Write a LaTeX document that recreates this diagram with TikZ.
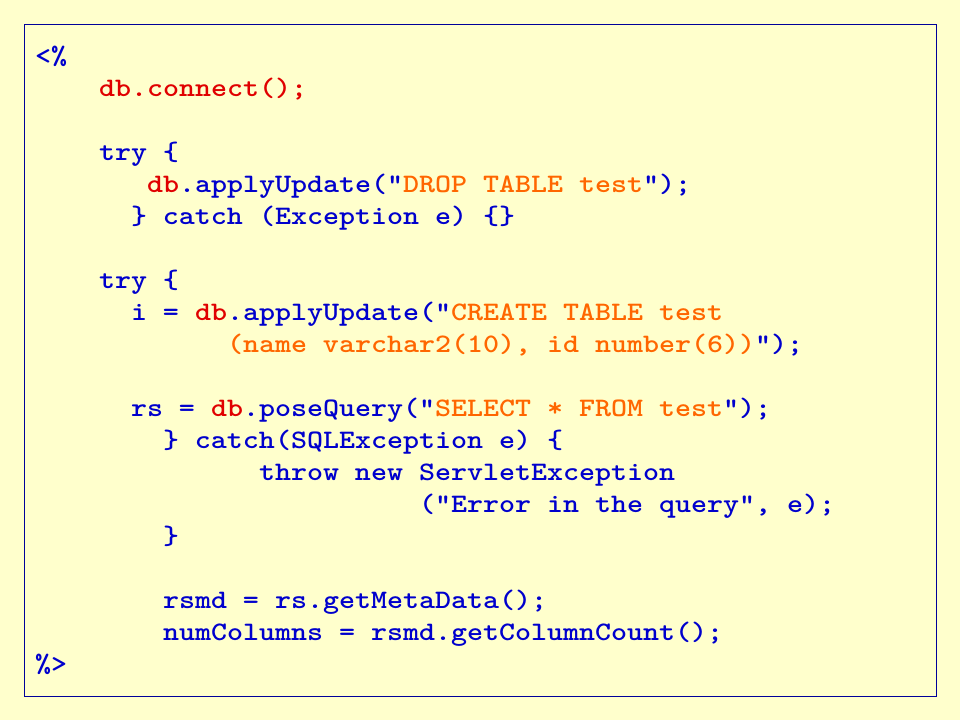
\documentclass[tikz,border=0pt]{standalone}
\usepackage{fontspec}
\newfontfamily\codefont{lmmonolt10-bold.otf}[FakeStretch=1.143]
\definecolor{bgyellow}{HTML}{FFFFCC}
\definecolor{codeblue}{HTML}{0000CC}
\definecolor{codered}{HTML}{E00000}
\definecolor{codeorange}{HTML}{FF6600}
\definecolor{framecol}{HTML}{00009A}
\newcommand{\Bl}[1]{\textcolor{codeblue}{#1}}
\newcommand{\Rd}[1]{\textcolor{codered}{#1}}
\newcommand{\Or}[1]{\textcolor{codeorange}{#1}}
\tikzset{
  codeline/.style={anchor=base west, inner sep=0pt, outer sep=0pt,
    font=\codefont\fontsize{26.67}{32}\selectfont, text=codeblue},
  codeframe/.style={draw=framecol, line width=1.3pt, fill=bgyellow}
}
\begin{document}
\begin{tikzpicture}[x=1pt,y=-1pt]
\fill[bgyellow] (0,0) rectangle (960,720);
\useasboundingbox (0,0) rectangle (960,720);
\node[codeframe, minimum width=912pt, minimum height=672pt, anchor=north west, inner sep=0pt] (frame) at (24,24) {};
\node[codeline] (l0)  at (35,64)  {\Bl{<\%}};
\node[codeline] (l1)  at (99,96)  {\Rd{db.connect();}};
\node[codeline] (l3)  at (99,160) {\Bl{try \{}};
\node[codeline] (l4)  at (147,192) {\Rd{db}\Bl{.applyUpdate("}\Or{DROP TABLE test}\Bl{");}};
\node[codeline] (l5)  at (131,224) {\Bl{\} catch (Exception e) \{\}}};
\node[codeline] (l7)  at (99,288) {\Bl{try \{}};
\node[codeline] (l8)  at (131,320) {\Bl{i = }\Rd{db}\Bl{.applyUpdate("}\Or{CREATE TABLE test}};
\node[codeline] (l9)  at (227,352) {\Or{(name varchar2(10), id number(6))}\Bl{");}};
\node[codeline] (l11) at (131,416) {\Bl{rs = }\Rd{db}\Bl{.poseQuery("}\Or{SELECT * FROM test}\Bl{");}};
\node[codeline] (l12) at (163,448) {\Bl{\} catch(SQLException e) \{}};
\node[codeline] (l13) at (259,480) {\Bl{throw new ServletException}};
\node[codeline] (l14) at (419,512) {\Bl{("Error in the query", e);}};
\node[codeline] (l15) at (163,544) {\Bl{\}}};
\node[codeline] (l17) at (163,608) {\Bl{rsmd = rs.getMetaData();}};
\node[codeline] (l18) at (163,640) {\Bl{numColumns = rsmd.getColumnCount();}};
\node[codeline] (l19) at (35,672) {\Bl{\%>}};
\end{tikzpicture}
\end{document}
